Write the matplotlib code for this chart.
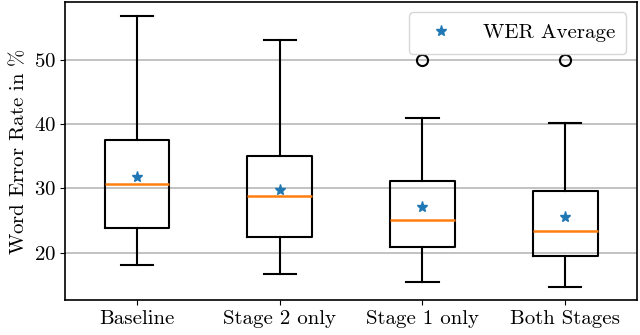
import matplotlib
matplotlib.use('Agg')
import matplotlib.pyplot as plt

# Valores (WER en %)
categorias = ['Baseline', 'Stage 2 only', 'Stage 1 only', 'Both Stages']
bigote_inf = [18.0, 16.7, 15.4, 14.7]
q1 = [23.75, 22.5, 20.8, 19.4]
mediana = [30.6, 28.75, 25.0, 23.3]
q3 = [37.6, 35.0, 31.1, 29.6]
bigote_sup = [56.9, 53.1, 40.9, 40.2]
atipicos = [[], [], [50.0], [50.0]]
promedio = [31.7, 29.7, 27.1, 25.6]

plt.rcParams['font.family'] = 'serif'
plt.rcParams['font.serif'] = ['cmr10']
plt.rcParams['mathtext.fontset'] = 'cm'
plt.rcParams['axes.formatter.use_mathtext'] = True
plt.rcParams['font.size'] = 15

stats = []
for i, nombre in enumerate(categorias):
    stats.append({'label': nombre, 'whislo': bigote_inf[i], 'q1': q1[i], 'med': mediana[i],
                  'q3': q3[i], 'whishi': bigote_sup[i], 'fliers': atipicos[i]})

fig = plt.figure(figsize=(6.4, 3.35), dpi=100)
ax = fig.add_axes([0.102, 0.104, 0.893, 0.890])

posiciones = list(range(1, len(categorias) + 1))
ax.bxp(stats, positions=posiciones, widths=0.45,
       boxprops=dict(color='black', linewidth=1.5),
       whiskerprops=dict(color='black', linewidth=1.5),
       capprops=dict(color='black', linewidth=1.5),
       medianprops=dict(color='#ff7f0e', linewidth=1.8),
       flierprops=dict(marker='o', markerfacecolor='none', markeredgecolor='black',
                       markersize=8, markeredgewidth=1.5))

ax.plot(posiciones, promedio, linestyle='none', marker='*', color='#1f77b4',
        markersize=8, label='WER Average')

ax.set_ylabel(r'Word Error Rate in $\%$')
ax.yaxis.grid(True, color='#b8b8b8', linewidth=1.2)
ax.set_axisbelow(True)
for s in ax.spines.values():
    s.set_linewidth(1.2)

ax.legend(loc='upper right', handletextpad=1.0, borderpad=0.55, fontsize=15)

plt.savefig('out.png', dpi=100)
